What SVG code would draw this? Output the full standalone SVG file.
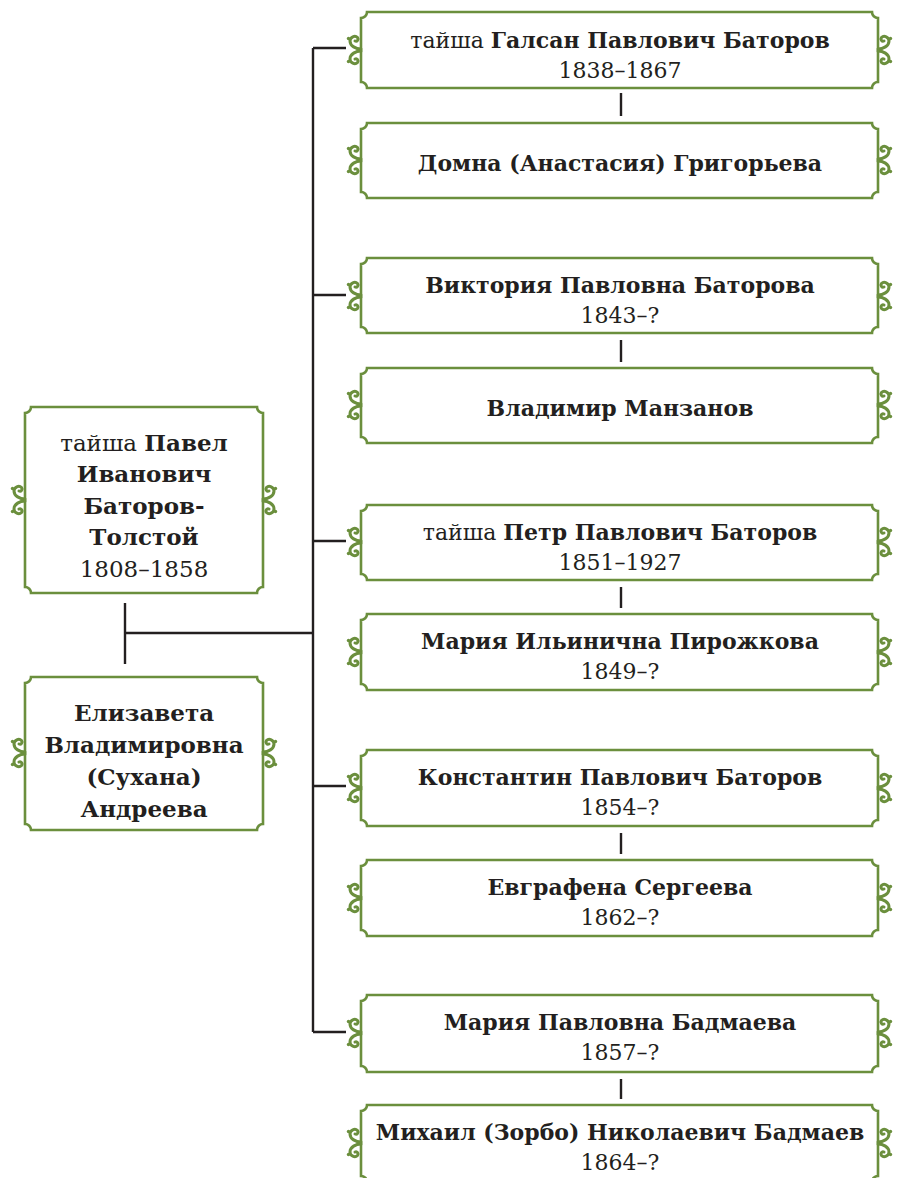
<svg xmlns="http://www.w3.org/2000/svg" xmlns:xlink="http://www.w3.org/1999/xlink" width="897" height="1178" viewBox="0 0 897 1178">
  <style>
    .frame { fill: #ffffff; stroke: #6b8f3d; stroke-width: 2.6; }
    .curl { fill: none; stroke: #6b8f3d; stroke-width: 3; stroke-linecap: round; }
    .link { fill: none; stroke: #231f20; stroke-width: 2.4; }
    text { font-family: "DejaVu Serif", "Liberation Serif", serif; font-size: 22px; fill: #231f20; text-anchor: middle; }
    .big text { font-size: 23px; }
    .b { font-weight: bold; }
  </style>
  <defs>
    <!-- double spiral ornament sitting on the left edge of a frame, origin at edge midpoint -->
    <g id="curl-l" class="curl">
      <path d="M0,-1 C-5,-1 -11,-4 -11,-9 C-11,-13 -6,-15 -3.5,-12.5 C-2,-10.5 -4,-8 -6,-9"/>
      <path d="M0,1 C-5,1 -11,4 -11,9 C-11,13 -6,15 -3.5,12.5 C-2,10.5 -4,8 -6,9"/>
      <circle cx="-12.5" cy="-11.5" r="1.7" fill="#6b8f3d" stroke="none"/>
      <circle cx="-12.5" cy="11.5" r="1.7" fill="#6b8f3d" stroke="none"/>
    </g>
    <g id="curl-r">
      <use xlink:href="#curl-l" href="#curl-l" transform="scale(-1,1)"/>
    </g>
  </defs>

  <!-- connectors -->
  <g id="connectors" class="link">
    <path d="M125,603 V664 M125,633 H313"/>
    <path d="M313,48 V1032"/>
    <path d="M313,48 H346 M313,295 H346 M313,541 H346 M313,786 H346 M313,1032 H346"/>
    <path d="M621,93 V116 M621,340 V362 M621,587 V608 M621,833 V854 M621,1079 V1099"/>
  </g>

  <!-- parents -->
  <g id="node-pavel" class="big">
    <path class="frame" d="M31,407 H257 A6,6 0 0 0 263,413 V587 A6,6 0 0 0 257,593 H31 A6,6 0 0 0 25,587 V413 A6,6 0 0 0 31,407 Z"/>
    <use href="#curl-l" xlink:href="#curl-l" x="25" y="500"/>
    <use href="#curl-r" xlink:href="#curl-r" x="263" y="500"/>
    <text x="144" y="451">тайша <tspan class="b">Павел</tspan></text>
    <text x="144" y="482" class="b">Иванович</text>
    <text x="144" y="514" class="b">Баторов-</text>
    <text x="144" y="545" class="b">Толстой</text>
    <text x="144" y="577">1808–1858</text>
  </g>

  <g id="node-elizaveta" class="big">
    <path class="frame" d="M31,677 H257 A6,6 0 0 0 263,683 V824 A6,6 0 0 0 257,830 H31 A6,6 0 0 0 25,824 V683 A6,6 0 0 0 31,677 Z"/>
    <use href="#curl-l" xlink:href="#curl-l" x="25" y="753"/>
    <use href="#curl-r" xlink:href="#curl-r" x="263" y="753"/>
    <text x="144" y="721" class="b">Елизавета</text>
    <text x="144" y="753" class="b">Владимировна</text>
    <text x="144" y="785" class="b">(Сухана)</text>
    <text x="144" y="817" class="b">Андреева</text>
  </g>

  <!-- children and spouses -->
  <g id="node-galsan">
    <path class="frame" d="M367,12 H872 A6,6 0 0 0 878,18 V82 A6,6 0 0 0 872,88 H367 A6,6 0 0 0 361,82 V18 A6,6 0 0 0 367,12 Z"/>
    <use href="#curl-l" xlink:href="#curl-l" x="361" y="50"/>
    <use href="#curl-r" xlink:href="#curl-r" x="878" y="50"/>
    <text x="620" y="48">тайша <tspan class="b">Галсан Павлович Баторов</tspan></text>
    <text x="620" y="78">1838–1867</text>
  </g>

  <g id="node-domna">
    <path class="frame" d="M367,123 H872 A6,6 0 0 0 878,129 V192 A6,6 0 0 0 872,198 H367 A6,6 0 0 0 361,192 V129 A6,6 0 0 0 367,123 Z"/>
    <use href="#curl-l" xlink:href="#curl-l" x="361" y="160"/>
    <use href="#curl-r" xlink:href="#curl-r" x="878" y="160"/>
    <text x="620" y="171" class="b">Домна (Анастасия) Григорьева</text>
  </g>

  <g id="node-viktoriya">
    <path class="frame" d="M367,258 H872 A6,6 0 0 0 878,264 V327 A6,6 0 0 0 872,333 H367 A6,6 0 0 0 361,327 V264 A6,6 0 0 0 367,258 Z"/>
    <use href="#curl-l" xlink:href="#curl-l" x="361" y="296"/>
    <use href="#curl-r" xlink:href="#curl-r" x="878" y="296"/>
    <text x="620" y="293" class="b">Виктория Павловна Баторова</text>
    <text x="620" y="323">1843–?</text>
  </g>

  <g id="node-vladimir">
    <path class="frame" d="M367,368 H872 A6,6 0 0 0 878,374 V437 A6,6 0 0 0 872,443 H367 A6,6 0 0 0 361,437 V374 A6,6 0 0 0 367,368 Z"/>
    <use href="#curl-l" xlink:href="#curl-l" x="361" y="405"/>
    <use href="#curl-r" xlink:href="#curl-r" x="878" y="405"/>
    <text x="620" y="416" class="b">Владимир Манзанов</text>
  </g>

  <g id="node-petr">
    <path class="frame" d="M367,505 H872 A6,6 0 0 0 878,511 V574 A6,6 0 0 0 872,580 H367 A6,6 0 0 0 361,574 V511 A6,6 0 0 0 367,505 Z"/>
    <use href="#curl-l" xlink:href="#curl-l" x="361" y="542"/>
    <use href="#curl-r" xlink:href="#curl-r" x="878" y="542"/>
    <text x="620" y="540">тайша <tspan class="b">Петр Павлович Баторов</tspan></text>
    <text x="620" y="570">1851–1927</text>
  </g>

  <g id="node-mariya-i">
    <path class="frame" d="M367,614 H872 A6,6 0 0 0 878,620 V684 A6,6 0 0 0 872,690 H367 A6,6 0 0 0 361,684 V620 A6,6 0 0 0 367,614 Z"/>
    <use href="#curl-l" xlink:href="#curl-l" x="361" y="652"/>
    <use href="#curl-r" xlink:href="#curl-r" x="878" y="652"/>
    <text x="620" y="649" class="b">Мария Ильинична Пирожкова</text>
    <text x="620" y="679">1849–?</text>
  </g>

  <g id="node-konstantin">
    <path class="frame" d="M367,750 H872 A6,6 0 0 0 878,756 V820 A6,6 0 0 0 872,826 H367 A6,6 0 0 0 361,820 V756 A6,6 0 0 0 367,750 Z"/>
    <use href="#curl-l" xlink:href="#curl-l" x="361" y="788"/>
    <use href="#curl-r" xlink:href="#curl-r" x="878" y="788"/>
    <text x="620" y="785" class="b">Константин Павлович Баторов</text>
    <text x="620" y="815">1854–?</text>
  </g>

  <g id="node-evgrafena">
    <path class="frame" d="M367,860 H872 A6,6 0 0 0 878,866 V930 A6,6 0 0 0 872,936 H367 A6,6 0 0 0 361,930 V866 A6,6 0 0 0 367,860 Z"/>
    <use href="#curl-l" xlink:href="#curl-l" x="361" y="898"/>
    <use href="#curl-r" xlink:href="#curl-r" x="878" y="898"/>
    <text x="620" y="895" class="b">Евграфена Сергеева</text>
    <text x="620" y="925">1862–?</text>
  </g>

  <g id="node-mariya-p">
    <path class="frame" d="M367,995 H872 A6,6 0 0 0 878,1001 V1066 A6,6 0 0 0 872,1072 H367 A6,6 0 0 0 361,1066 V1001 A6,6 0 0 0 367,995 Z"/>
    <use href="#curl-l" xlink:href="#curl-l" x="361" y="1033"/>
    <use href="#curl-r" xlink:href="#curl-r" x="878" y="1033"/>
    <text x="620" y="1030" class="b">Мария Павловна Бадмаева</text>
    <text x="620" y="1060">1857–?</text>
  </g>

  <g id="node-mikhail">
    <path class="frame" d="M367,1105 H872 A6,6 0 0 0 878,1111 V1176 A6,6 0 0 0 872,1182 H367 A6,6 0 0 0 361,1176 V1111 A6,6 0 0 0 367,1105 Z"/>
    <use href="#curl-l" xlink:href="#curl-l" x="361" y="1143"/>
    <use href="#curl-r" xlink:href="#curl-r" x="878" y="1143"/>
    <text x="620" y="1140" class="b">Михаил (Зорбо) Николаевич Бадмаев</text>
    <text x="620" y="1170">1864–?</text>
  </g>
</svg>
